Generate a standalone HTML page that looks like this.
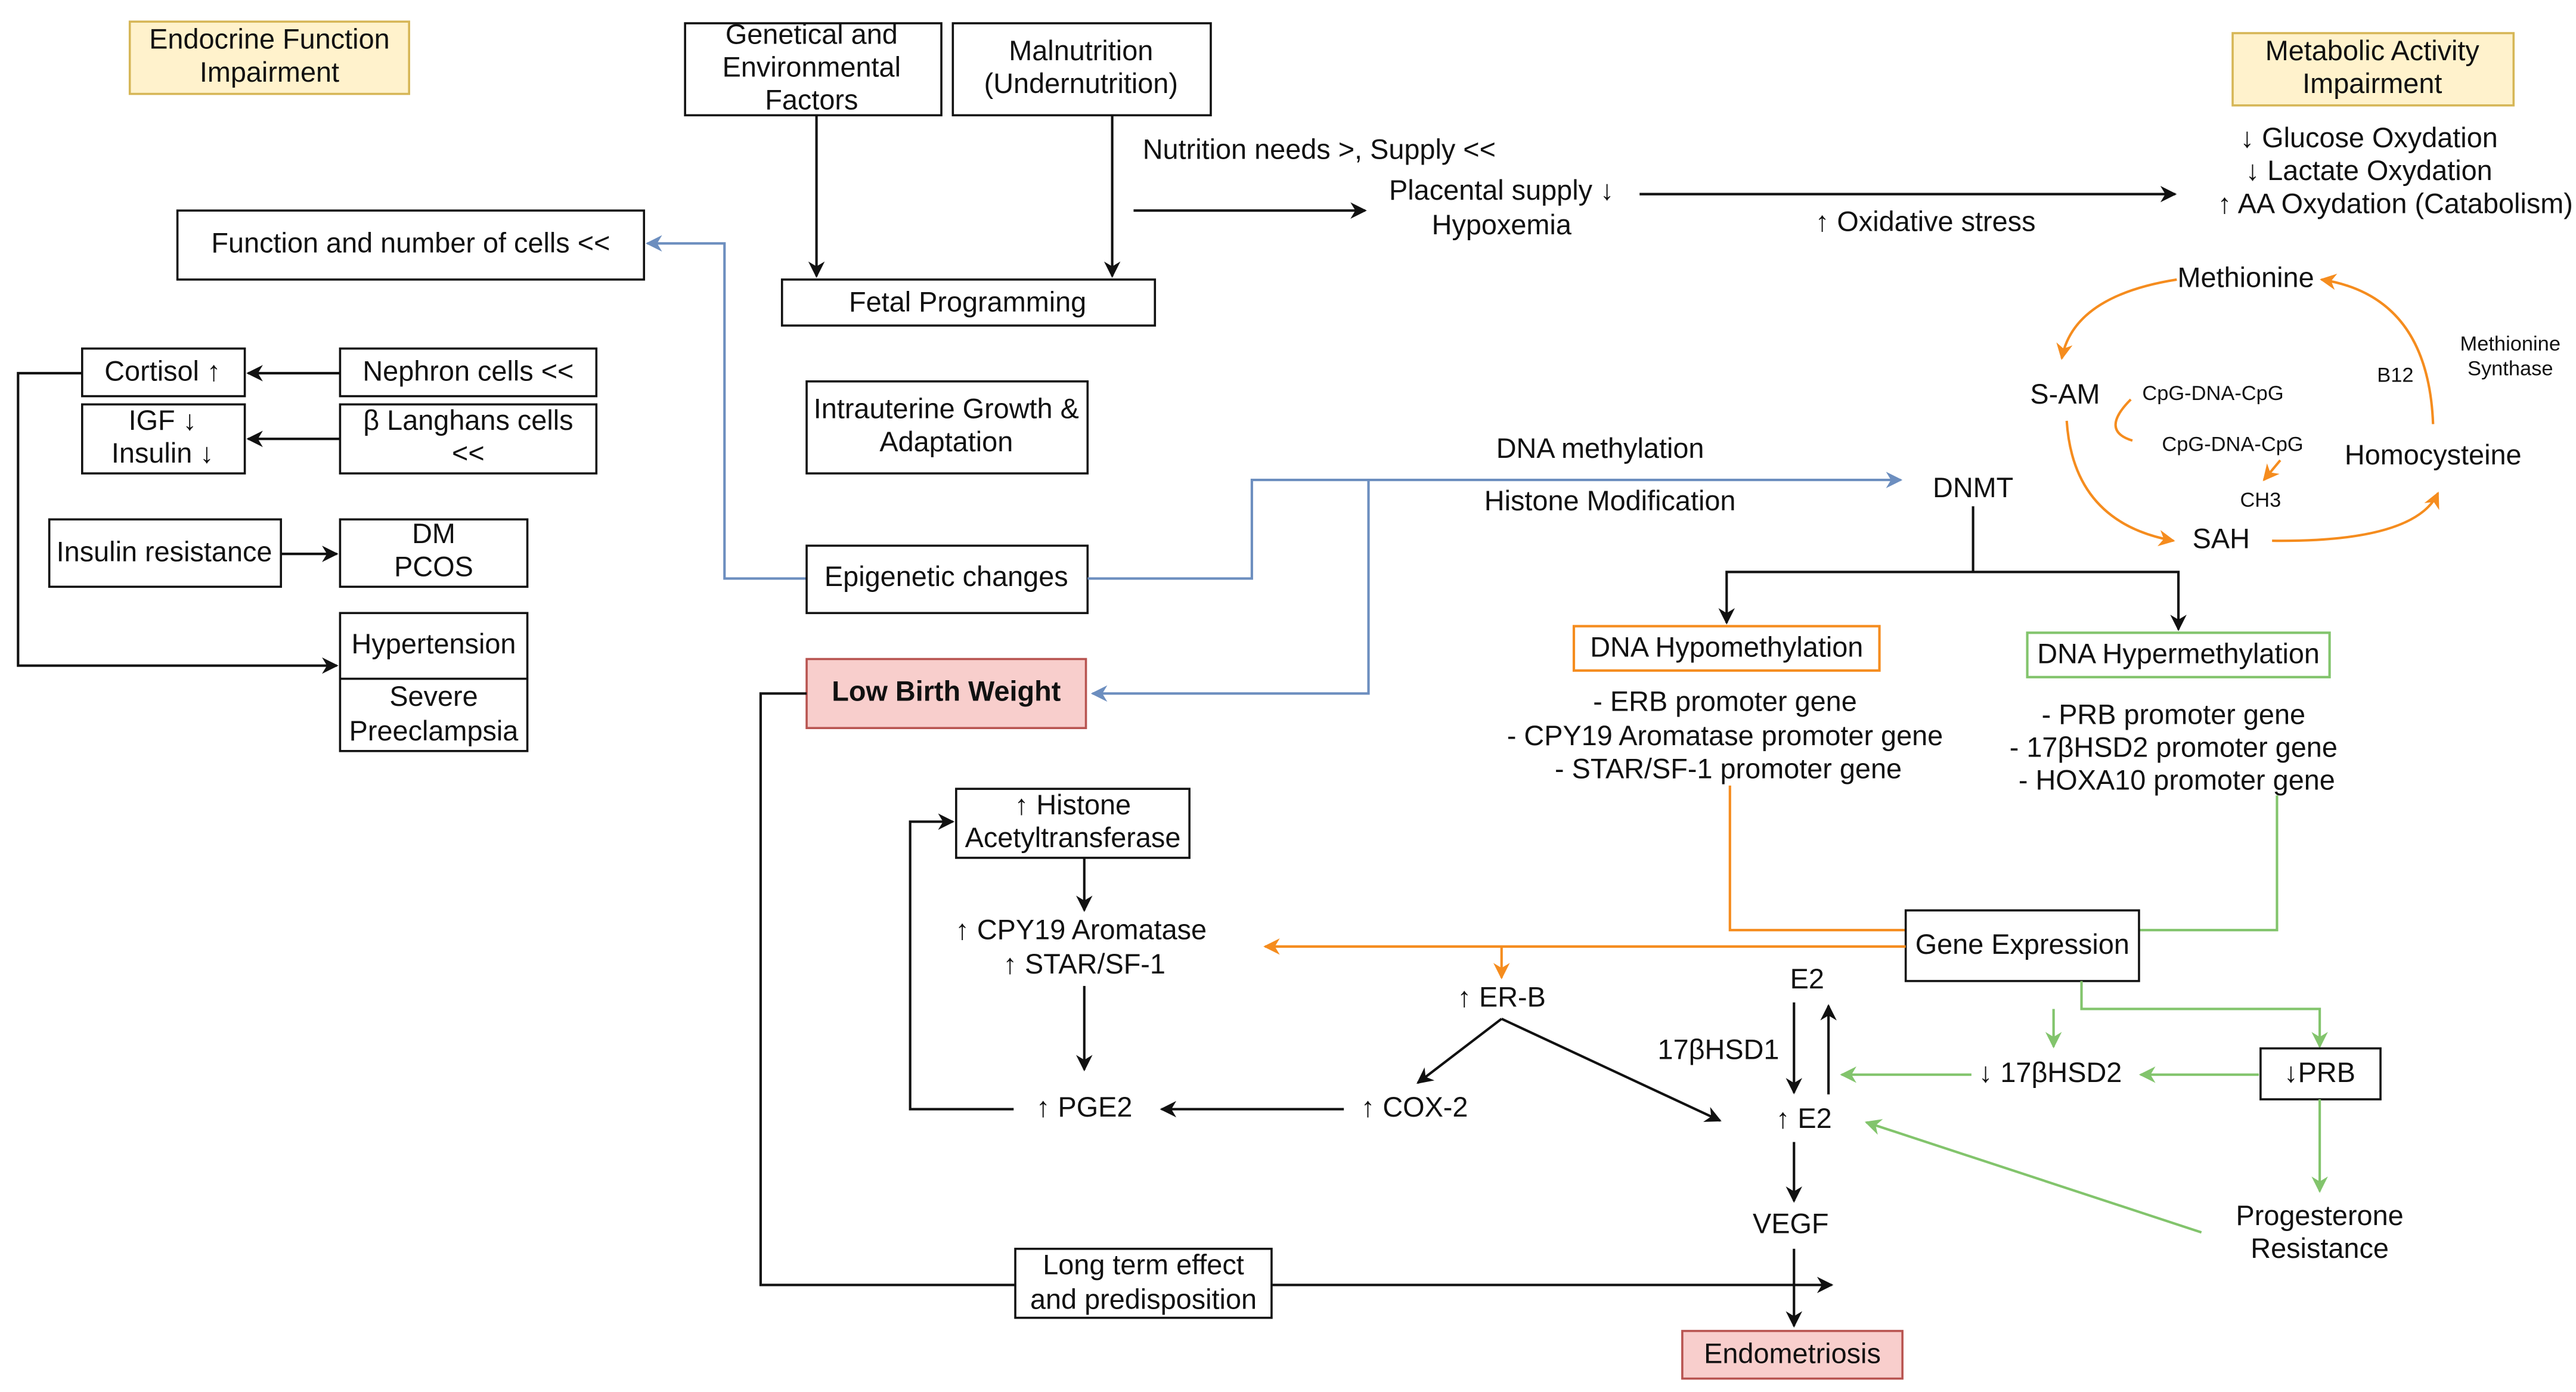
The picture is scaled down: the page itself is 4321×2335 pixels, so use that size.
<!DOCTYPE html>
<html><head><meta charset="utf-8"><style>
html,body{margin:0;padding:0;background:#fff;}
svg{display:block;}
text{font-family:"Liberation Sans",sans-serif;font-size:17px;fill:#111;text-anchor:middle;dominant-baseline:middle;}
.s{font-size:12.5px;}
.b{fill:#fff;stroke:#111;stroke-width:1.3;}
.y{fill:#fff2cc;stroke:#d6b656;stroke-width:1.3;}
.p{fill:#f8cecc;stroke:#b85450;stroke-width:1.3;}
.k{stroke:#111;stroke-width:1.5;fill:none;}
.bl{stroke:#6c8ebf;stroke-width:1.5;fill:none;}
.o{stroke:#f58c1e;stroke-width:1.5;fill:none;}
.g{stroke:#82c46c;stroke-width:1.5;fill:none;}
</style></head><body>
<svg width="4321" height="2335" viewBox="0 0 1568 847" xmlns="http://www.w3.org/2000/svg">
<defs>
<marker id="ak" markerWidth="10" markerHeight="10" refX="9" refY="5" orient="auto" markerUnits="userSpaceOnUse"><path d="M0,0 L10,5 L0,10 L3,5 z" fill="#111"/></marker>
<marker id="ab" markerWidth="10" markerHeight="10" refX="9" refY="5" orient="auto" markerUnits="userSpaceOnUse"><path d="M0,0 L10,5 L0,10 L3,5 z" fill="#6c8ebf"/></marker>
<marker id="ao" markerWidth="10" markerHeight="10" refX="9" refY="5" orient="auto" markerUnits="userSpaceOnUse"><path d="M0,0 L10,5 L0,10 L3,5 z" fill="#f58c1e"/></marker>
<marker id="ag" markerWidth="10" markerHeight="10" refX="9" refY="5" orient="auto" markerUnits="userSpaceOnUse"><path d="M0,0 L10,5 L0,10 L3,5 z" fill="#82c46c"/></marker>
</defs>

<rect class="y" x="79" y="13" width="170" height="44"/>
<text x="164" y="25">Endocrine Function</text><text x="164" y="45">Impairment</text>
<rect class="b" x="417" y="14" width="156" height="56"/>
<text x="494" y="22">Genetical and</text><text x="494" y="42">Environmental</text><text x="494" y="62">Factors</text>
<rect class="b" x="580" y="14" width="157" height="56"/>
<text x="658" y="32">Malnutrition</text><text x="658" y="52">(Undernutrition)</text>
<rect class="y" x="1359" y="20" width="171" height="44"/>
<text x="1444" y="32">Metabolic Activity</text><text x="1444" y="52">Impairment</text>

<path class="k" d="M497,70 V168" marker-end="url(#ak)"/>
<path class="k" d="M677,70 V168" marker-end="url(#ak)"/>
<rect class="b" x="476" y="170" width="227" height="28"/>
<text x="589" y="185">Fetal Programming</text>

<text x="803" y="92">Nutrition needs &gt;, Supply &lt;&lt;</text>
<path class="k" d="M690,128 H831" marker-end="url(#ak)"/>
<text x="914" y="117">Placental supply ↓</text><text x="914" y="138">Hypoxemia</text>
<path class="k" d="M998,118 H1324" marker-end="url(#ak)"/>
<text x="1172" y="136">↑ Oxidative stress</text>
<text x="1442" y="85">↓ Glucose Oxydation</text>
<text x="1442" y="105">↓ Lactate Oxydation</text>
<text x="1458" y="125">↑ AA Oxydation (Catabolism)</text>

<rect class="b" x="108" y="128" width="284" height="42"/>
<text x="250" y="149">Function and number of cells &lt;&lt;</text>
<path class="bl" d="M491,352 H441 V148 H394" marker-end="url(#ab)"/>

<rect class="b" x="50" y="212" width="99" height="29"/><text x="99" y="227">Cortisol ↑</text>
<rect class="b" x="207" y="212" width="156" height="29"/><text x="285" y="227">Nephron cells &lt;&lt;</text>
<path class="k" d="M207,227 H151" marker-end="url(#ak)"/>
<rect class="b" x="50" y="246" width="99" height="42"/><text x="99" y="257">IGF ↓</text><text x="99" y="277">Insulin ↓</text>
<rect class="b" x="207" y="246" width="156" height="42"/><text x="285" y="257">β Langhans cells</text><text x="285" y="277">&lt;&lt;</text>
<path class="k" d="M207,267 H151" marker-end="url(#ak)"/>
<rect class="b" x="30" y="316" width="141" height="41"/><text x="100" y="337">Insulin resistance</text>
<rect class="b" x="207" y="316" width="114" height="41"/><text x="264" y="326">DM</text><text x="264" y="346">PCOS</text>
<path class="k" d="M171,337 H205" marker-end="url(#ak)"/>
<rect class="b" x="207" y="373" width="114" height="84"/>
<line class="k" x1="207" y1="413" x2="321" y2="413" style="stroke-width:1.3"/>
<text x="264" y="393">Hypertension</text><text x="264" y="425">Severe</text><text x="264" y="446">Preeclampsia</text>
<path class="k" d="M50,227 H11 V405 H205" marker-end="url(#ak)"/>

<rect class="b" x="491" y="232" width="171" height="56"/>
<text x="576" y="250">Intrauterine Growth &amp;</text><text x="576" y="270">Adaptation</text>
<rect class="b" x="491" y="332" width="171" height="41"/>
<text x="576" y="352">Epigenetic changes</text>
<path class="bl" d="M662,352 H762 V292 H1157" marker-end="url(#ab)"/>
<path class="bl" d="M833,292 V422 H665" marker-end="url(#ab)"/>
<text x="974" y="274">DNA methylation</text>
<text x="980" y="306">Histone Modification</text>
<text x="1201" y="298">DNMT</text>

<rect class="p" x="491" y="401" width="170" height="42"/>
<text x="576" y="422" style="font-weight:bold">Low Birth Weight</text>

<path class="k" d="M1201,308 V348 H1051 V379" marker-end="url(#ak)"/>
<path class="k" d="M1201,348 H1326 V383" marker-end="url(#ak)"/>
<rect x="958" y="381" width="186" height="27" fill="#fff" stroke="#f58c1e" stroke-width="1.5"/>
<text x="1051" y="395">DNA Hypomethylation</text>
<rect x="1234" y="385" width="184" height="27" fill="#fff" stroke="#82c46c" stroke-width="1.5"/>
<text x="1326" y="399">DNA Hypermethylation</text>
<text x="1050" y="428">- ERB promoter gene</text>
<text x="1050" y="449">- CPY19 Aromatase promoter gene</text>
<text x="1052" y="469">- STAR/SF-1 promoter gene</text>
<text x="1323" y="436">- PRB promoter gene</text>
<text x="1323" y="456">-  17βHSD2 promoter gene</text>
<text x="1325" y="476">- HOXA10 promoter gene</text>

<path class="o" d="M1053,478 V566 H1160"/>
<path class="g" d="M1386,484 V566 H1302"/>
<rect class="b" x="1160" y="554" width="142" height="43"/>
<text x="1231" y="576">Gene Expression</text>
<path class="o" d="M1160,576 H770" marker-end="url(#ao)"/>
<path class="o" d="M914,576 V595" marker-end="url(#ao)"/>
<path class="g" d="M1267,597 V614 H1412 V637" marker-end="url(#ag)"/>
<path class="g" d="M1250,614 V637" marker-end="url(#ag)"/>

<text x="1367" y="170">Methionine</text>
<text x="1257" y="241">S-AM</text>
<text x="1352" y="329">SAH</text>
<text x="1481" y="278">Homocysteine</text>
<text x="1347" y="240" class="s">CpG-DNA-CpG</text>
<text x="1359" y="271" class="s">CpG-DNA-CpG</text>
<text x="1376" y="305" class="s">CH3</text>
<text x="1458" y="229" class="s">B12</text>
<text x="1528" y="210" class="s">Methionine</text><text x="1528" y="225" class="s">Synthase</text>
<path class="o" d="M1325,170 Q1262,180 1255,218" marker-end="url(#ao)"/>
<path class="o" d="M1258,256 Q1262,318 1323,329" marker-end="url(#ao)"/>
<path class="o" d="M1383,329 Q1470,330 1484,300" marker-end="url(#ao)"/>
<path class="o" d="M1481,258 Q1478,180 1413,170" marker-end="url(#ao)"/>
<path class="o" d="M1297,243 Q1278,262 1298,268"/>
<path class="o" d="M1388,280 L1378,292" marker-end="url(#ao)"/>

<rect class="b" x="582" y="480" width="142" height="42"/>
<text x="653" y="491">↑ Histone</text><text x="653" y="511">Acetyltransferase</text>
<path class="k" d="M660,522 V554" marker-end="url(#ak)"/>
<text x="658" y="567">↑ CPY19 Aromatase</text>
<text x="660" y="588">↑ STAR/SF-1</text>
<path class="k" d="M660,600 V651" marker-end="url(#ak)"/>
<text x="660" y="675">↑ PGE2</text>
<path class="k" d="M617,675 H554 V500 H580" marker-end="url(#ak)"/>
<text x="861" y="675">↑ COX-2</text>
<path class="k" d="M818,675 H707" marker-end="url(#ak)"/>
<text x="914" y="608">↑ ER-B</text>
<path class="k" d="M914,620 L863,659" marker-end="url(#ak)"/>
<path class="k" d="M914,620 L1047,682" marker-end="url(#ak)"/>

<text x="1100" y="597">E2</text>
<text x="1046" y="640">17βHSD1</text>
<path class="k" d="M1092,610 V665" marker-end="url(#ak)"/>
<path class="k" d="M1113,666 V612" marker-end="url(#ak)"/>
<text x="1098" y="682">↑ E2</text>
<text x="1248" y="654">↓ 17βHSD2</text>
<path class="g" d="M1200,654 H1121" marker-end="url(#ag)"/>
<rect class="b" x="1376" y="638" width="73" height="31"/>
<text x="1412" y="654">↓PRB</text>
<path class="g" d="M1375,654 H1303" marker-end="url(#ag)"/>
<path class="g" d="M1412,669 V725" marker-end="url(#ag)"/>
<text x="1412" y="741">Progesterone</text><text x="1412" y="761">Resistance</text>
<path class="g" d="M1340,750 L1136,683" marker-end="url(#ag)"/>
<path class="k" d="M1092,695 V731" marker-end="url(#ak)"/>
<text x="1090" y="746">VEGF</text>
<path class="k" d="M1092,760 V807" marker-end="url(#ak)"/>
<rect class="p" x="1024" y="810" width="134" height="29"/>
<text x="1091" y="825">Endometriosis</text>

<path class="k" d="M491,422 H463 V782 H1115" marker-end="url(#ak)"/>
<rect class="b" x="618" y="760" width="156" height="42"/>
<text x="696" y="771">Long term effect</text><text x="696" y="792">and predisposition</text>
</svg>
</body></html>
